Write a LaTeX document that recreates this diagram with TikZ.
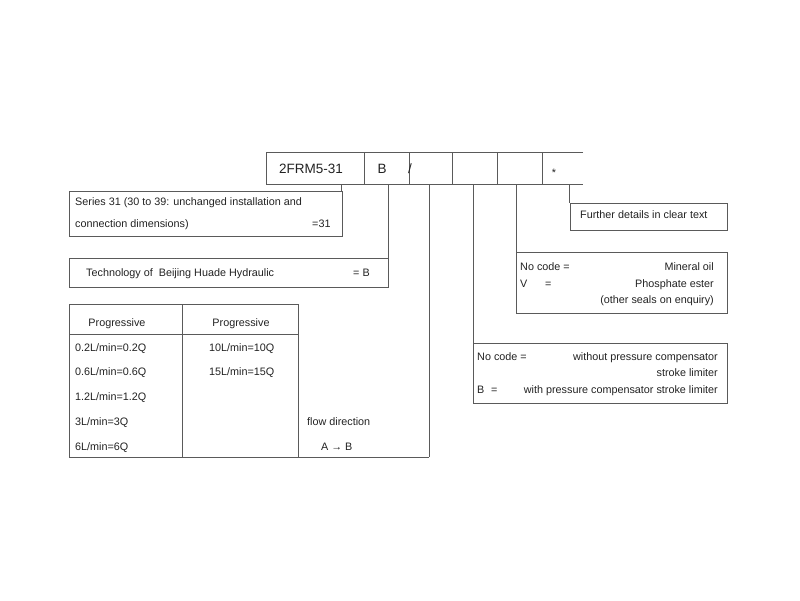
\documentclass[tikz,border=0pt]{standalone}
\usepackage{fontspec}
\setmainfont{Liberation Sans}
\usepackage{tikz}
\usetikzlibrary{positioning}
\definecolor{linegray}{HTML}{5A5A5A}
\definecolor{textgray}{HTML}{222222}
\tikzset{
    box/.style={draw=linegray, line width=0.9pt, rectangle, inner sep=0pt, outer sep=0pt, anchor=north west},
    txt/.style={inner sep=0pt, text=textgray, text height=8pt, text depth=2.4pt, yshift=-1.5pt, font=\fontsize{10.8}{13}\selectfont},
    code/.style={inner sep=0pt, text=textgray, text height=10pt, text depth=2.8pt, yshift=-1.5pt, font=\fontsize{13.5}{16}\selectfont},
    wire/.style={draw=linegray, line width=0.9pt}
}

\begin{document}
\begin{tikzpicture}[x=1pt, y={(0pt,-1pt)}]
            \useasboundingbox (0,0) rectangle (800,600);

            %ordering code row
            \draw[wire] (583,152) -- (266,152) -- (266,184) -- (583,184);
            \foreach \xc in {364, 409, 452, 497, 542}
                \draw[wire] (\xc,152) -- (\xc,184);
            \node[code] (model) at (311,168) {2FRM5-31};
            \node[code] (tech) at (382,168) {B};
            \node[code] (slash) at (410,168) {/};
            \node[txt] (star) at (554,172) {*};

            %taps under the row
            \coordinate (tapseries) at (341,184);
            \coordinate (taptech) at (388,184);
            \coordinate (tapflow) at (429,184);
            \coordinate (tappress) at (473,184);
            \coordinate (tapseal) at (516,184);
            \coordinate (tapmore) at (569,184);

            %series box
            \node[box, minimum width=273pt, minimum height=45pt] (series) at (69,191) {};
            \node[txt, anchor=west] (series1) at (75,201) {Series 31 (30 to 39: unchanged installation and};
            \node[txt, anchor=west] (series2) at (75,223) {connection dimensions)};
            \node[txt, anchor=west] (series3) at (312,223) {=31};

            %technology box
            \node[box, minimum width=319pt, minimum height=29pt] (techbox) at (69,258) {};
            \node[txt, anchor=west] (tech1) at (86,272) {Technology of\ \ Beijing Huade Hydraulic};
            \node[txt, anchor=west] (tech2) at (353,272) {= B};

            %flow table
            \node[box, minimum width=360pt, minimum height=153pt, draw=none] (flowbox) at (69,304) {};
            \draw[wire] (298,304) -- (69,304) -- (69,457) -- (429,457);
            \draw[wire] (69,334) -- (298,334);
            \draw[wire] (182,304) -- (182,457);
            \draw[wire] (298,304) -- (298,457);
            \node[txt] (head1) at (117,322) {Progressive};
            \node[txt] (head2) at (241,322) {Progressive};
            \foreach \yc/\lab [count=\i] in {347/{0.2L/min=0.2Q}, 371/{0.6L/min=0.6Q}, 396/{1.2L/min=1.2Q}, 421/{3L/min=3Q}, 446/{6L/min=6Q}}
                \node[txt, anchor=west] (flowa\i) at (75,\yc) {\lab};
            \node[txt, anchor=west] (flowb1) at (209,347) {10L/min=10Q};
            \node[txt, anchor=west] (flowb2) at (209,371) {15L/min=15Q};
            \node[txt, anchor=west] (dir1) at (307,421) {flow direction};
            \node[txt, anchor=west] (dir2) at (321,446) {A → B};

            %further details box
            \node[box, minimum width=157pt, minimum height=27pt] (more) at (570,203) {};
            \node[txt, anchor=west] (more1) at (580,214) {Further details in clear text};

            %seal box
            \node[box, minimum width=211pt, minimum height=61pt] (seal) at (516,252) {};
            \node[txt, anchor=west] (seal1) at (520,266) {No code =};
            \node[txt, anchor=east] (seal2) at (714,266) {Mineral oil};
            \node[txt, anchor=west] (seal3) at (520,283) {V};
            \node[txt, anchor=west] (seal4) at (545,283) {=};
            \node[txt, anchor=east] (seal5) at (714,283) {Phosphate ester};
            \node[txt, anchor=east] (seal6) at (714,299) {(other seals on enquiry)};

            %pressure compensator box
            \node[box, minimum width=254pt, minimum height=60pt] (press) at (473,343) {};
            \node[txt, anchor=west] (press1) at (477,356) {No code =};
            \node[txt, anchor=east] (press2) at (718,356) {without pressure compensator};
            \node[txt, anchor=east] (press3) at (718,372) {stroke limiter};
            \node[txt, anchor=west] (press4) at (477,389) {B};
            \node[txt, anchor=west] (press5) at (491,389) {=};
            \node[txt, anchor=east] (press6) at (718,389) {with pressure compensator stroke limiter};

            %connectors
            \draw[wire] (tapseries) -- (tapseries |- series.north);
            \draw[wire] (taptech) -- (taptech |- techbox.north);
            \draw[wire] (tapflow) -- (tapflow |- flowbox.south);
            \draw[wire] (tappress) -- (press.north west);
            \draw[wire] (tapseal) -- (seal.north west);
            \draw[wire] (tapmore) -- (tapmore |- more.north);

        \end{tikzpicture}
\end{document}
